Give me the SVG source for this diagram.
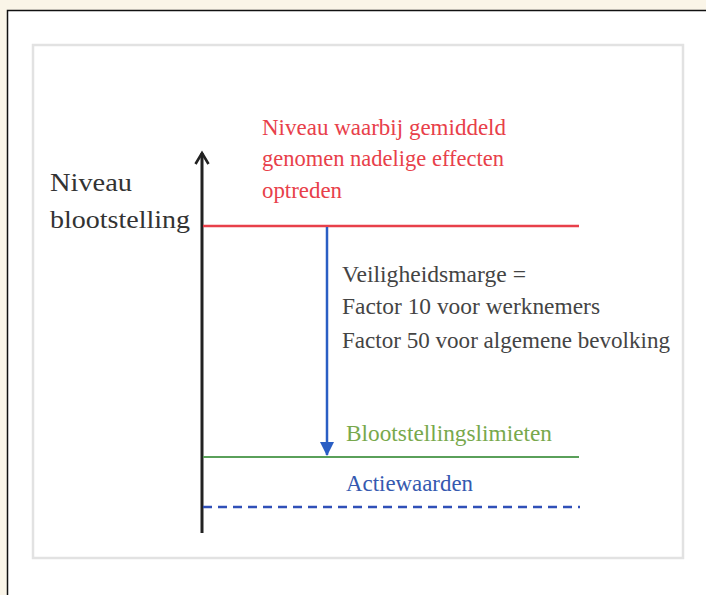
<svg xmlns="http://www.w3.org/2000/svg" width="706" height="595" viewBox="0 0 706 595">
<style>
text{font-family:"Liberation Serif",Tinos,"Times New Roman",Times,serif;}
.lbl{font-size:26px;fill:#333;}
.red{font-size:23px;fill:#e8404a;}
.blk{font-size:23px;fill:#444;}
.grn{font-size:23px;fill:#78a84c;}
.blu{font-size:23px;fill:#3559b0;}
</style>
<defs>
<marker id="axisHead" markerWidth="16" markerHeight="16" refX="13" refY="8" orient="auto" markerUnits="userSpaceOnUse" viewBox="0 0 16 16">
<path d="M2,1.5 L13,8 L2,14.5" fill="none" stroke="#222" stroke-width="2.6" stroke-linejoin="miter"/>
</marker>
<marker id="blueHead" markerWidth="14" markerHeight="14" refX="13" refY="7" orient="auto" markerUnits="userSpaceOnUse" viewBox="0 0 14 14">
<path d="M0,0 L14,7 L0,14 Z" fill="#2a5ec4"/>
</marker>
</defs>
<rect x="0" y="0" width="706" height="595" fill="#faf5e8"/>
<rect x="7.5" y="10.5" width="800" height="700" fill="#ffffff" stroke="#111" stroke-width="1.5"/>
<rect x="33" y="45" width="650" height="513" fill="#ffffff" stroke="#e2e2e2" stroke-width="2.5"/>
<g id="connectors">
<line x1="202" y1="533" x2="202" y2="153" stroke="#222" stroke-width="3" marker-end="url(#axisHead)"/>
<line x1="203" y1="226" x2="579" y2="226" stroke="#e8404a" stroke-width="2.5"/>
<line x1="203" y1="457" x2="579" y2="457" stroke="#5aa05a" stroke-width="2"/>
<line x1="203" y1="507" x2="580" y2="507" stroke="#3050b8" stroke-width="2.5" stroke-dasharray="9,6"/>
<line x1="327" y1="227" x2="327" y2="455" stroke="#2a5ec4" stroke-width="2.5" marker-end="url(#blueHead)"/>
</g>
<g id="axis-label">
<text class="lbl" x="50" y="191" textLength="82" lengthAdjust="spacingAndGlyphs">Niveau</text>
<text class="lbl" x="50" y="228" textLength="140" lengthAdjust="spacingAndGlyphs">blootstelling</text>
</g>
<g id="node-effects">
<text class="red" x="262" y="135" textLength="244" lengthAdjust="spacingAndGlyphs">Niveau waarbij gemiddeld</text>
<text class="red" x="262" y="166" textLength="242" lengthAdjust="spacingAndGlyphs">genomen nadelige effecten</text>
<text class="red" x="262" y="198" textLength="80" lengthAdjust="spacingAndGlyphs">optreden</text>
</g>
<g id="node-margin">
<text class="blk" x="342" y="282" textLength="184" lengthAdjust="spacingAndGlyphs">Veiligheidsmarge =</text>
<text class="blk" x="342" y="314" textLength="258" lengthAdjust="spacingAndGlyphs">Factor 10 voor werknemers</text>
<text class="blk" x="342" y="348" textLength="328" lengthAdjust="spacingAndGlyphs">Factor 50 voor algemene bevolking</text>
</g>
<g id="node-limits">
<text class="grn" x="346" y="441" textLength="206" lengthAdjust="spacingAndGlyphs">Blootstellingslimieten</text>
</g>
<g id="node-action">
<text class="blu" x="346" y="491" textLength="127" lengthAdjust="spacingAndGlyphs">Actiewaarden</text>
</g>
</svg>
